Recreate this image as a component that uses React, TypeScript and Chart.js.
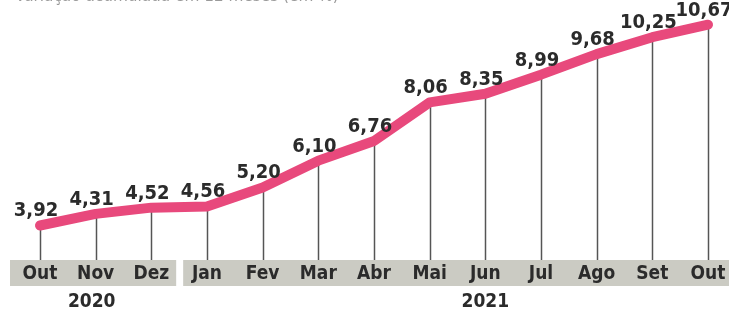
import React, { useEffect, useRef } from "react";
import { Chart, registerables } from "chart.js";

Chart.register(...registerables);

const months = ["Out", "Nov", "Dez", "Jan", "Fev", "Mar", "Abr", "Mai", "Jun", "Jul", "Ago", "Set", "Out"];
const values = [3.92, 4.31, 4.52, 4.56, 5.2, 6.1, 6.76, 8.06, 8.35, 8.99, 9.68, 10.25, 10.67];
const years = [
  { label: "2020", first: 0, last: 2, center: 1 },
  { label: "2021", first: 3, last: 12, center: 8 },
];
const title = "Variação acumulada em 12 meses (em %)";

const FONT = '"DejaVu Sans Condensed", "DejaVu Sans", sans-serif';

const decor = {
  id: "decor",
  beforeDatasetsDraw(chart: any) {
    const ctx = chart.ctx;
    const meta = chart.getDatasetMeta(0);
    const x = chart.scales.x;
    const bandTop = chart.chartArea.bottom;
    const bandBottom = bandTop + 26;
    ctx.save();
    // title (cut off at top)
    ctx.fillStyle = "#9a9a9a";
    ctx.font = `17px ${FONT}`;
    ctx.textAlign = "left";
    ctx.textBaseline = "alphabetic";
    ctx.fillText(title, 15, 1);
    // bands
    ctx.fillStyle = "#cbcbc3";
    const half = (x.getPixelForValue(3) - x.getPixelForValue(2)) / 2;
    years.forEach((y, i) => {
      const l = i === 0 ? 10 : x.getPixelForValue(y.first) - half + 4;
      const r = i === 0 ? x.getPixelForValue(y.last) + half - 3 : chart.width;
      ctx.fillRect(l, bandTop, r - l, bandBottom - bandTop);
    });
    // vertical lines
    ctx.strokeStyle = "#555555";
    ctx.lineWidth = 1.5;
    meta.data.forEach((pt: any) => {
      ctx.beginPath();
      ctx.moveTo(Math.round(pt.x) + 0.5, pt.y);
      ctx.lineTo(Math.round(pt.x) + 0.5, bandTop);
      ctx.stroke();
    });
    // month labels
    ctx.fillStyle = "#2b2b2b";
    ctx.font = `bold 19px ${FONT}`;
    ctx.textAlign = "center";
    ctx.textBaseline = "middle";
    months.forEach((m, i) => {
      ctx.fillText(m, x.getPixelForValue(i), bandTop + 14);
    });
    // year labels
    years.forEach((y, i) => {
      const cx = x.getPixelForValue(y.center) - (i === 0 ? 4 : 0);
      ctx.fillText(y.label, cx, bandTop + 42);
    });
    ctx.restore();
  },
  afterDatasetsDraw(chart: any) {
    const ctx = chart.ctx;
    const meta = chart.getDatasetMeta(0);
    ctx.save();
    ctx.fillStyle = "#2b2b2b";
    ctx.font = `bold 20px ${FONT}`;
    ctx.textAlign = "center";
    ctx.textBaseline = "alphabetic";
    meta.data.forEach((pt: any, i: number) => {
      const txt = values[i].toFixed(2).replace(".", ",");
      ctx.fillText(txt, pt.x - 4, pt.y - 9);
    });
    ctx.restore();
  },
};

export default function App() {
  const ref = useRef<HTMLCanvasElement>(null);
  useEffect(() => {
    if (!ref.current) return;
    const chart = new Chart(ref.current, {
      type: "line",
      data: {
        labels: months,
        datasets: [
          {
            data: values,
            borderColor: "#e8497c",
            borderWidth: 10,
            borderCapStyle: "round",
            borderJoinStyle: "round",
            pointRadius: 0,
            tension: 0,
            clip: false as any,
          },
        ],
      },
      options: {
        animation: false,
        responsive: false,
        maintainAspectRatio: false,
        layout: { padding: { left: 40, right: 21, top: 0, bottom: 58 } },
        plugins: { legend: { display: false }, tooltip: { enabled: false } },
        scales: {
          x: { display: false, offset: false },
          y: { display: false, min: 2.76, max: 11.5 },
        },
      },
      plugins: [decor],
    });
    return () => chart.destroy();
  }, []);
  return (
    <div style={{ position: "absolute", left: 0, top: 0, width: 729, height: 318, background: "#fff" }}>
      <canvas ref={ref} width={729} height={318} />
    </div>
  );
}
